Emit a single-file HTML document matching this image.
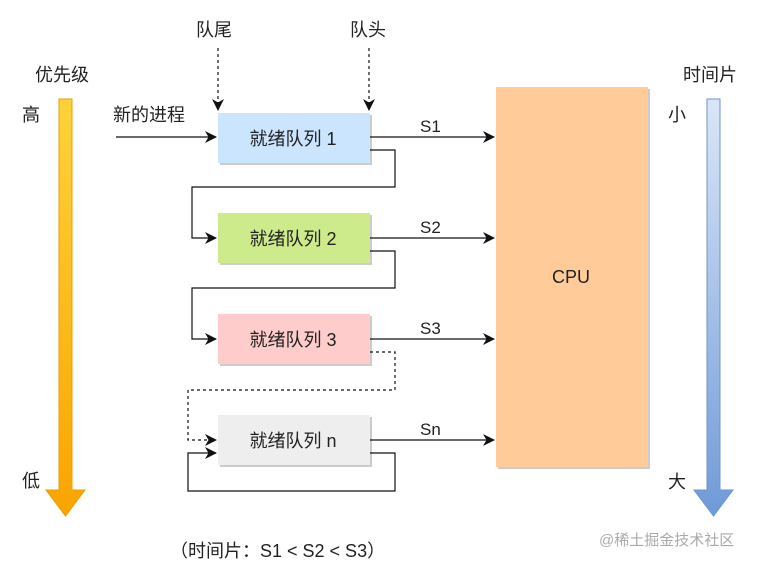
<!DOCTYPE html>
<html><head><meta charset="utf-8"><style>
html,body{margin:0;padding:0;background:#fff}
svg text{font-family:"Liberation Sans","Noto Sans CJK SC",sans-serif;fill:#222}
</style></head><body>
<svg width="757" height="564" viewBox="0 0 757 564" xmlns="http://www.w3.org/2000/svg">
<defs>
<linearGradient id="og" x1="0" y1="0" x2="0" y2="1"><stop offset="0" stop-color="#ffd23a"/><stop offset="1" stop-color="#f9a400"/></linearGradient>
<linearGradient id="bg" x1="0" y1="0" x2="0" y2="1"><stop offset="0" stop-color="#dae6f8"/><stop offset="1" stop-color="#6f9ad8"/></linearGradient>
<marker id="ah" markerWidth="12" markerHeight="12" refX="11" refY="6" orient="auto" markerUnits="userSpaceOnUse"><path d="M0,0 L12,6 L0,12 L3.5,6 Z" fill="#111"/></marker>
</defs>
<path d="M59,99 H72 V490 H85 L65.5,516 L46,490 H59 Z" fill="url(#og)" stroke="#e8a000" stroke-width="1"/>
<path d="M707,99 H720 V490 H733 L713.5,516 L694,490 H707 Z" fill="url(#bg)" stroke="#6c95d0" stroke-width="1"/>
<g font-size="18">
<text x="35" y="81">优先级</text>
<text x="22" y="121">高</text>
<text x="22" y="487">低</text>
<text x="683" y="81">时间片</text>
<text x="668" y="121">小</text>
<text x="668" y="488">大</text>
<text x="196" y="36">队尾</text>
<text x="350" y="36">队头</text>
<text x="113" y="121">新的进程</text>
</g>
<rect x="498" y="89" width="152" height="380" fill="#ccc"/>
<rect x="496" y="87" width="152" height="380" fill="#ffcc99"/>
<text x="571" y="283" font-size="18" text-anchor="middle">CPU</text>
<g font-size="18" text-anchor="middle">
<rect x="220" y="115" width="152" height="50" fill="#ccc"/><rect x="218" y="113" width="152" height="50" fill="#cce5ff"/><text x="293" y="145">就绪队列 1</text>
<rect x="220" y="215" width="152" height="50" fill="#ccc"/><rect x="218" y="213" width="152" height="50" fill="#cdeb8b"/><text x="293" y="245">就绪队列 2</text>
<rect x="220" y="316" width="152" height="50" fill="#ccc"/><rect x="218" y="314" width="152" height="50" fill="#ffcccc"/><text x="293" y="346">就绪队列 3</text>
<rect x="220" y="417" width="152" height="50" fill="#ccc"/><rect x="218" y="415" width="152" height="50" fill="#eeeeee"/><text x="293" y="447">就绪队列 n</text>
</g>
<g stroke="#111" stroke-width="1.2" fill="none">
<line x1="218" y1="48" x2="218" y2="110" stroke-dasharray="3,3" marker-end="url(#ah)"/>
<line x1="369" y1="48" x2="369" y2="110" stroke-dasharray="3,3" marker-end="url(#ah)"/>
<line x1="116" y1="137" x2="216" y2="137" marker-end="url(#ah)"/>
<line x1="370" y1="137" x2="494" y2="137" marker-end="url(#ah)"/>
<line x1="370" y1="238" x2="494" y2="238" marker-end="url(#ah)"/>
<line x1="370" y1="339" x2="494" y2="339" marker-end="url(#ah)"/>
<line x1="370" y1="440" x2="494" y2="440" marker-end="url(#ah)"/>
<polyline points="370,150 395,150 395,187 192,187 192,238 216,238" marker-end="url(#ah)"/>
<polyline points="370,251 395,251 395,288 192,288 192,339 216,339" marker-end="url(#ah)"/>
<polyline points="370,352 395,352 395,390 188,390 188,440 216,440" stroke-dasharray="3,3" marker-end="url(#ah)"/>
<polyline points="370,453 395,453 395,491 188,491 188,453 216,453" marker-end="url(#ah)"/>
</g>
<g font-size="17">
<text x="420" y="132">S1</text><text x="420" y="233">S2</text><text x="420" y="334">S3</text><text x="420" y="435">Sn</text>
</g>
<text x="170" y="557" font-size="18">（时间片：S1 &lt; S2 &lt; S3）</text>
<text x="599" y="545" font-size="15" style="fill:#aaa">@稀土掘金技术社区</text>
</svg>
</body></html>
